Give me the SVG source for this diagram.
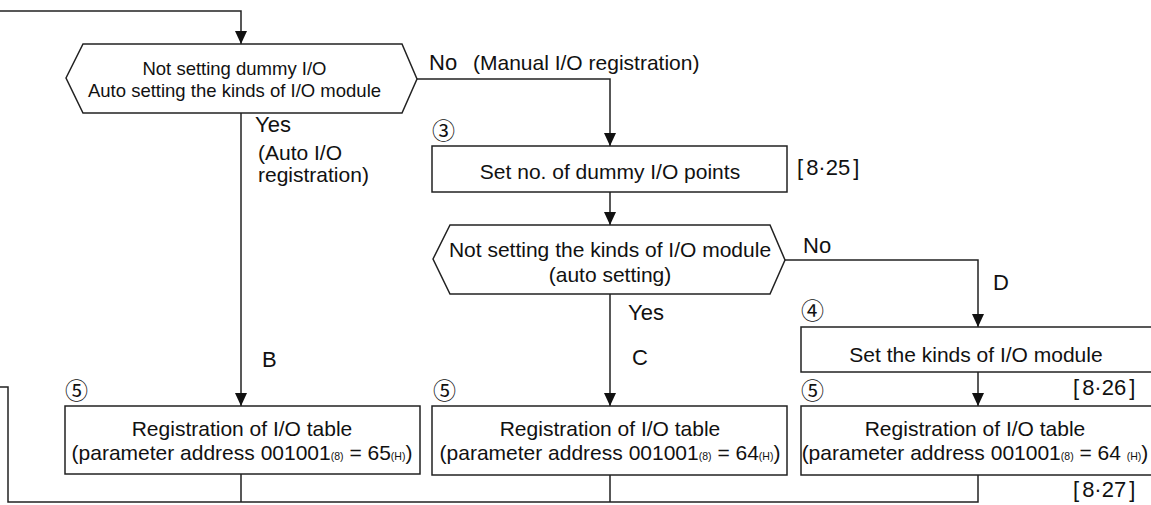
<svg xmlns="http://www.w3.org/2000/svg" width="1151" height="505" viewBox="0 0 1151 505">
<style>
.bx{fill:#fff;stroke:#222;stroke-width:1.5}
.ln{fill:none;stroke:#222;stroke-width:1.5}
.t{font-family:"Liberation Sans",Arial,Helvetica,sans-serif;font-size:21px;fill:#111}
.s{font-size:18.5px}
.m{text-anchor:middle}
.big{font-size:22px}
.sub{font-size:10.5px}
.c{font-family:"Noto Sans CJK JP","Noto Sans CJK SC",sans-serif;font-size:23px;fill:#111}
.br{font-family:"Liberation Sans",Arial,sans-serif;font-size:22px;fill:#111}
</style>
<defs>
<marker id="ah" viewBox="0 0 13 12" refX="13" refY="6" markerWidth="13" markerHeight="12" markerUnits="userSpaceOnUse" orient="auto">
<path d="M0,0 L13,6 L0,12 z" fill="#111"/>
</marker>
</defs>
<g id="connectors">
<path class="ln" d="M0,11 H241 V44" marker-end="url(#ah)"/>
<path class="ln" d="M417,79 H610 V146" marker-end="url(#ah)"/>
<path class="ln" d="M610,192 V225" marker-end="url(#ah)"/>
<path class="ln" d="M785,260 H978 V327" marker-end="url(#ah)"/>
<path class="ln" d="M978,372 V406" marker-end="url(#ah)"/>
<path class="ln" d="M241,113 V406" marker-end="url(#ah)"/>
<path class="ln" d="M610,294 V406" marker-end="url(#ah)"/>
<path class="ln" d="M241,474 V502 M610,475 V502 M978,475 V502 H8 V387 H0"/>
</g>
<g id="decision1">
<polygon class="bx" points="66,78 83,44 402,44 417,79 402,113 83,113"/>
<text class="t s m" x="234.5" y="75">Not setting dummy I/O</text>
<text class="t s m" x="234.5" y="97">Auto setting the kinds of I/O module</text>
</g>
<g id="labels-decision1">
<text class="t big" x="429" y="70">No</text>
<text class="t" x="473" y="70">(Manual I/O registration)</text>
<text class="t big" x="255" y="132">Yes</text>
<text class="t" x="258" y="160">(Auto I/O</text>
<text class="t" x="258" y="182">registration)</text>
<text class="t big" x="262" y="367">B</text>
</g>
<g id="step3">
<text class="c" x="432" y="139">③</text>
<rect class="bx" x="432" y="146" width="355" height="46"/>
<text class="t m" x="610" y="179">Set no. of dummy I/O points</text>
<text class="br" x="797" y="175">[<tspan dx="3">8·25</tspan><tspan dx="3">]</tspan></text>
</g>
<g id="decision2">
<polygon class="bx" points="433,259 450,225 770,225 785,260 770,294 450,294"/>
<text class="t m" x="610" y="257">Not setting the kinds of I/O module</text>
<text class="t m" x="610" y="282">(auto setting)</text>
</g>
<g id="labels-decision2">
<text class="t big" x="803" y="253">No</text>
<text class="t big" x="993" y="290">D</text>
<text class="t big" x="628" y="320">Yes</text>
<text class="t big" x="632" y="365">C</text>
</g>
<g id="step4">
<text class="c" x="801" y="319">④</text>
<rect class="bx" x="801" y="327" width="352" height="45"/>
<text class="t m" x="976" y="362">Set the kinds of I/O module</text>
<text class="br" x="1073" y="395">[<tspan dx="3">8·26</tspan><tspan dx="3">]</tspan></text>
</g>
<g id="step5-B">
<text class="c" x="65" y="399">⑤</text>
<rect class="bx" x="65" y="406" width="355" height="68"/>
<text class="t m" x="242" y="436">Registration of I/O table</text>
<text class="t m" x="242" y="460">(parameter address 001001<tspan class="sub">(8)</tspan> = 65<tspan class="sub">(H)</tspan>)</text>
</g>
<g id="step5-C">
<text class="c" x="433" y="399">⑤</text>
<rect class="bx" x="432" y="406" width="355" height="69"/>
<text class="t m" x="610" y="436">Registration of I/O table</text>
<text class="t m" x="610" y="460">(parameter address 001001<tspan class="sub">(8)</tspan> = 64<tspan class="sub">(H)</tspan>)</text>
</g>
<g id="step5-D">
<text class="c" x="801" y="399">⑤</text>
<rect class="bx" x="801" y="406" width="352" height="69"/>
<text class="t m" x="975" y="436">Registration of I/O table</text>
<text class="t m" x="975" y="460">(parameter address 001001<tspan class="sub">(8)</tspan> = 64 <tspan class="sub">(H)</tspan>)</text>
<text class="br" x="1073" y="497">[<tspan dx="3">8·27</tspan><tspan dx="3">]</tspan></text>
</g>
</svg>
